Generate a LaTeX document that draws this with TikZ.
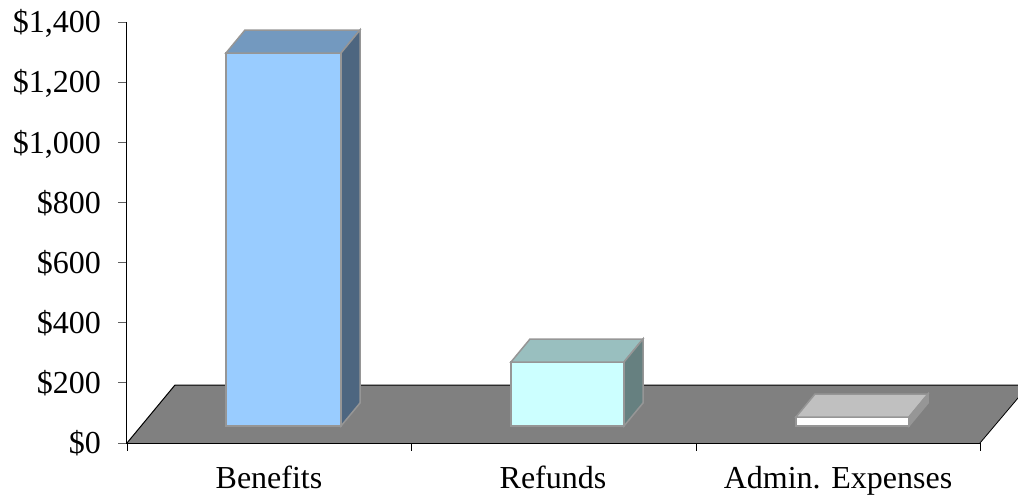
\documentclass[tikz,border=0pt]{standalone}
\usepackage{fontspec}
\setmainfont{Liberation Serif}
\definecolor{floorgray}{HTML}{808080}
\definecolor{barline}{HTML}{969696}
\definecolor{benfront}{HTML}{99CCFF}
\definecolor{bentop}{HTML}{7399BF}
\definecolor{benside}{HTML}{4D6680}
\definecolor{reffront}{HTML}{CCFFFF}
\definecolor{reftop}{HTML}{99BFBF}
\definecolor{refside}{HTML}{668080}
\definecolor{admfront}{HTML}{FFFFFF}
\definecolor{admtop}{HTML}{C0C0C0}
\definecolor{admside}{HTML}{969696}
\definecolor{tickgray}{HTML}{606060}
% one 3-D column: left x, right x, top y, front/top/side colours
\newcommand\chartbar[6]{%
  \filldraw[barface, fill=#4] (#1,426) rectangle (#2,#3);
  \filldraw[barface, fill=#5] (#1,#3) -- (#1+19,#3-23) -- (#2+19,#3-23) -- (#2,#3) -- cycle;
  \filldraw[barface, fill=#6] (#2,#3) -- (#2+19,#3-23) -- (#2+19,403) -- (#2,426) -- cycle;
}
\begin{document}
\begin{tikzpicture}[x=1pt,y=-1pt,
  barface/.style={draw=barline, line width=1.5pt, line join=miter},
  ylab/.style={anchor=base east, inner sep=0pt, font=\fontsize{32}{38}\selectfont},
  xlab/.style={anchor=base, inner sep=0pt, font=\fontsize{32}{38}\selectfont}]
\useasboundingbox (0,0) rectangle (1018,498);
\begin{scope}
\clip (0,0) rectangle (1018,498);
% floor of the chart
\fill[floorgray] (127,443) -- (175,385) -- (1029,385) -- (980,443) -- cycle;
\draw[line width=1pt] (127,443) -- (175,385) -- (1029,385);
\draw[line width=0.8pt] (980,443) -- (1029,385);
\end{scope}
% axes
\draw[line width=1pt] (126,22) -- (126,443) -- (980,443);
\foreach \k/\lab in {0/\$0,1/\$200,2/\$400,3/\$600,4/\$800,5/{\$1,000},6/{\$1,200},7/{\$1,400}}{
  \draw[tickgray, line width=1pt] (118,443-60.14*\k) -- (126,443-60.14*\k);
  \node[ylab] (y\k) at (101,443-60.14*\k+10.8) {\lab};
}
\foreach \x in {127,411,696,980}{
  \draw[line width=1pt] (\x,443) -- (\x,451);
}
% columns
\chartbar{226}{341}{53}{benfront}{bentop}{benside}
\chartbar{511}{624}{362}{reffront}{reftop}{refside}
\chartbar{796}{909}{417}{admfront}{admtop}{admside}
% category labels
\node[xlab] (c1) at (269,488) {Benefits};
\node[xlab] (c2) at (553,488) {Refunds};
\node[xlab] (c3) at (838,488) {Admin. Expenses};
\end{tikzpicture}
\end{document}
